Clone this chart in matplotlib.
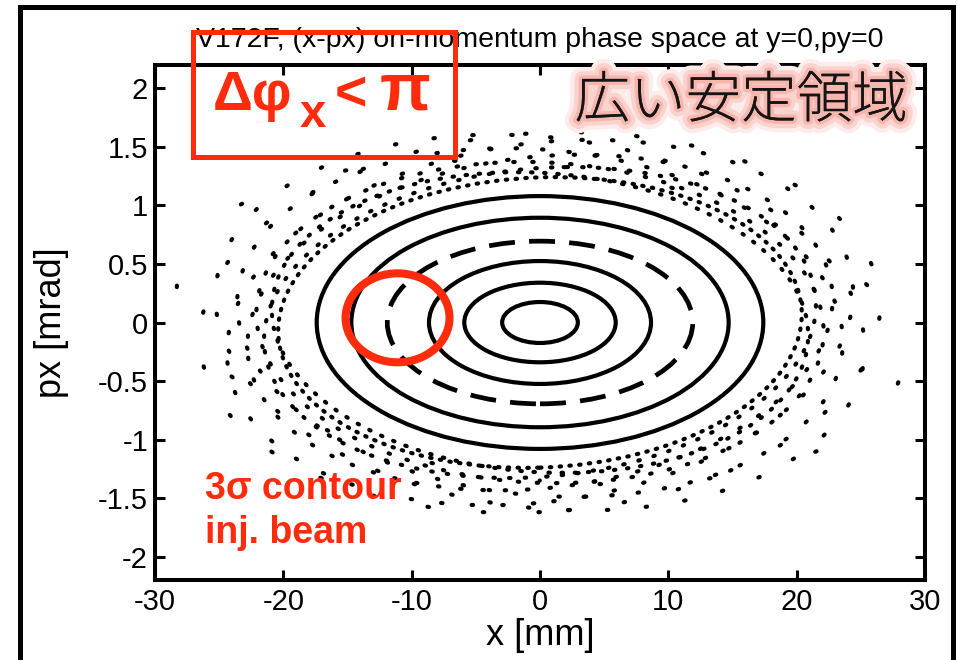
import matplotlib
matplotlib.use("Agg")
import matplotlib.pyplot as plt
from matplotlib.patches import Ellipse, Rectangle
import matplotlib.patheffects as pe

plt.rcParams['font.family'] = ['Liberation Sans', 'DejaVu Sans']
plt.rcParams['axes.unicode_minus'] = False

RED = '#fe2c0c'

# regular tori (semi-axes in x [mm] and px [mrad])
torus_a = [2.95, 5.9, 8.65, 14.7, 17.4]
torus_b = [0.175, 0.34, 0.525, 0.895, 1.08]

# dashed torus (3 sigma contour of injected beam)
dash_a = 11.9
dash_b = 0.695

# chaotic outer band, drawn as loose rings of dots
band_a = [20.4, 20.9, 21.5, 22.1, 22.8, 23.6, 24.4, 25.3, 26.5, 28.3]
band_b = [1.24, 1.28, 1.32, 1.37, 1.42, 1.48, 1.54, 1.59, 1.62, 1.35]
band_tilt = [0.2, -0.3, 0.4, -0.2, 0.5, -0.4, 0.6, -0.5, 0.3, -0.6]
band_gap = [2.0, 2.8, 3.4, 4.2, 5.0, 6.0, 7.0, 9.0, 13.0, 26.0]
band_offset = [0.0, 1.1, 2.3, 0.7, 3.1, 1.9, 4.2, 2.6, 6.5, 12.0]

xticks = [-30, -20, -10, 0, 10, 20, 30]
yticks = [-2, -1.5, -1, -0.5, 0, 0.5, 1, 1.5, 2]
ytick_labels = ['-2', '-1.5', '-1', '-0.5', '0', '0.5', '1', '1.5', '2']

fig = plt.figure(figsize=(9.58, 6.6), dpi=100)
ax = fig.add_axes([155/958, 80/660, 770/958, 515/660])

for a, b in zip(torus_a, torus_b):
    ax.add_patch(Ellipse((0, 0), 2*a, 2*b, fill=False, ec='black', lw=3.0))

ax.add_patch(Ellipse((0, 0), 2*dash_a, 2*dash_b, fill=False, ec='black',
                     lw=3.4, linestyle=(0, (5.5, 3.0))))

for a, b, t, g, o in zip(band_a, band_b, band_tilt, band_gap, band_offset):
    ax.add_patch(Ellipse((0, 0), 2*a, 2*b, angle=t, fill=False, ec='black',
                         lw=3.0, linestyle=(o, (0.35, g)), capstyle='round'))

ax.set_xlim(-30, 30)
ax.set_ylim(-2.2, 2.2)
ax.set_xticks(xticks)
ax.set_yticks(yticks)
ax.set_yticklabels(ytick_labels)
ax.tick_params(direction='in', length=7, width=2.2, top=True, right=True,
               labelsize=21)
ax.tick_params(axis='x', pad=6)
ax.tick_params(axis='y', pad=5)
for s in ax.spines.values():
    s.set_linewidth(2.9)

ax.set_xlabel('x [mm]', fontsize=26, va='center')
ax.xaxis.set_label_coords(0.5, -0.107)
ax.set_ylabel('px [mrad]', fontsize=26, va='center', ha='center')
ax.yaxis.set_label_coords(-0.134, 0.5)

fig.text(540/958, 1 - 40/660, 'V172F, (x-px) on-momentum phase space at y=0,py=0',
         ha='center', va='center', fontsize=20.5)

# annotations
fig.patches.append(Rectangle((193/958, 1 - 157/660), 262/958, 125/660,
                             transform=fig.transFigure, fill=False, ec=RED,
                             lw=3.6, zorder=5))
fig.text(213/958, 1 - 110/660, 'Δφ', color=RED, fontsize=40, fontweight='bold',
         ha='left', va='baseline')
fig.text(300/958, 1 - 127/660, 'x', color=RED, fontsize=34, fontweight='bold',
         ha='left', va='baseline')
fig.text(335/958, 1 - 110/660, '<', color=RED, fontsize=40, fontweight='bold',
         ha='left', va='baseline')
fig.text(380/958, 1 - 110/660, 'π', color=RED, fontsize=48, fontweight='bold',
         ha='left', va='baseline')

fig.text(741/958, 1 - 101/660, '広い安定領域', ha='center', va='center',
         fontsize=40, color='#151515', family=['Noto Sans CJK JP'],
         fontweight='light',
         path_effects=[pe.withStroke(linewidth=17, foreground='#fdecea'),
                       pe.withStroke(linewidth=11, foreground='#fad3ce'),
                       pe.withStroke(linewidth=5, foreground='#f6b5ad'),
                       pe.Normal()])

ax.add_patch(Ellipse((-11.1, 0.04), 8.1, 0.76, fill=False, ec=RED, lw=5.8,
                     zorder=6, clip_on=False))

fig.text(205/958, 1 - 499/660, '3σ contour', color=RED, fontsize=27,
         fontweight='bold', ha='left', va='baseline')
fig.text(205/958, 1 - 543/660, 'inj. beam', color=RED, fontsize=27,
         fontweight='bold', ha='left', va='baseline')

# outer slide frame
fig.patches.append(Rectangle((20/958, -0.05), 933/958, 1.05 - 7/660,
                             transform=fig.transFigure, fill=False,
                             ec='black', lw=3.6))

fig.savefig('out.png', dpi=100)
